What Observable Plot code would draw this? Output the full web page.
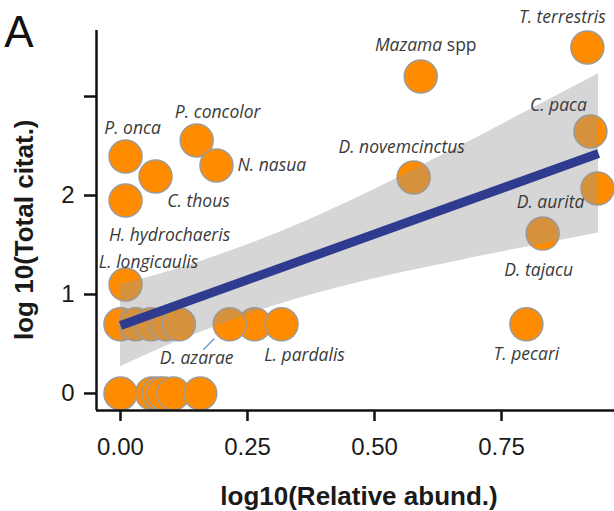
<!DOCTYPE html>
<html>
<head>
<meta charset="utf-8">
<script src="https://cdn.jsdelivr.net/npm/d3@7"></script>
<script src="https://cdn.jsdelivr.net/npm/@observablehq/plot@0.6"></script>
<style>
  html, body { margin: 0; padding: 0; background: #fff; }
  #chart svg { display: block; }
</style>
</head>
<body>
<div id="chart"></div>
<script>
// Named species: log10 relative abundance (x) and log10 total citations (y)
const species = [
  "T. terrestris", "Mazama spp", "C. paca", "D. novemcinctus", "D. aurita",
  "D. tajacu", "T. pecari", "P. onca", "C. thous", "P. concolor", "N. nasua",
  "H. hydrochaeris", "L. longicaulis", "D. azarae", "L. pardalis"
];
const relAbund = [0.919, 0.591, 0.925, 0.577, 0.939, 0.831, 0.799, 0.010, 0.069, 0.150, 0.189, 0.010, 0.010, 0.215, 0.317];
const totalCit = [3.495, 3.202, 2.646, 2.182, 2.071, 1.616, 0.699, 2.394, 2.192, 2.556, 2.303, 1.949, 1.101, 0.699, 0.699];

// Unlabelled species
const otherAbund = [0.000, 0.030, 0.060, 0.090, 0.115, 0.264, 0.000, 0.062, 0.075, 0.085, 0.104, 0.157];
const otherCit   = [0.699, 0.699, 0.699, 0.699, 0.699, 0.699, 0.000, 0.000, 0.000, 0.000, 0.000, 0.000];

// Linear fit and its 95% confidence band
const fitX = [0, 0.941];
const fitY = [0.687, 2.424];
const bandX     = [0, 0.1, 0.2, 0.3, 0.4, 0.5, 0.6, 0.7, 0.8, 0.941];
const bandLower = [0.27, 0.50, 0.70, 0.88, 1.03, 1.16, 1.27, 1.38, 1.48, 1.62];
const bandUpper = [1.10, 1.24, 1.41, 1.60, 1.82, 2.06, 2.32, 2.58, 2.85, 3.23];

// Axis ticks and titles
const xTicks = [0, 0.25, 0.5, 0.75];
const yTicks = [0, 1, 2, 3];
const xTitle = "log10(Relative abund.)";
const yTitle = "log 10(Total citat.)";
const panelTag = "A";

// Label placement relative to each point, in pixels
const labelLayout = {
  "T. terrestris":   {dx: -25, dy: -30},
  "Mazama spp":      {dx: 5,   dy: -31},
  "C. paca":         {dx: -32, dy: -26},
  "D. novemcinctus": {dx: -12, dy: -30},
  "D. aurita":       {dx: -47, dy: 14},
  "D. tajacu":       {dx: -4,  dy: 37},
  "T. pecari":       {dx: 0,   dy: 30},
  "P. onca":         {dx: 7,   dy: -28},
  "C. thous":        {dx: 43,  dy: 25},
  "P. concolor":     {dx: 21,  dy: -28},
  "N. nasua":        {dx: 21,  dy: 0, textAnchor: "start"},
  "H. hydrochaeris": {dx: 44,  dy: 35},
  "L. longicaulis":  {dx: 23,  dy: -22},
  "D. azarae":       {dx: -33, dy: 34},
  "L. pardalis":     {dx: 23,  dy: 31}
};

const named = species.map((name, i) => ({name, x: relAbund[i], y: totalCit[i]}));
const others = otherAbund.map((x, i) => ({x, y: otherCit[i]}));
const points = others.concat(named);
const band = bandX.map((x, i) => ({x, lo: bandLower[i], hi: bandUpper[i]}));
const fit = fitX.map((x, i) => ({x, y: fitY[i]}));

const xDomain = [-0.0472, 0.9724];
const yDomain = [-0.172, 3.667];

const labelMarks = named.map(d => {
  const o = labelLayout[d.name];
  return Plot.text([d], {
    x: "x", y: "y", text: "name",
    dx: o.dx, dy: o.dy,
    textAnchor: o.textAnchor || "middle",
    fontFamily: "Open Sans", fontStyle: "italic", fontSize: 17.5, fill: "#3a3a3a"
  });
});

// Short leader from the D. azarae label to its point
const azarae = named.find(d => d.name === "D. azarae");
const leader = (index, scales) => {
  const px = scales.x(azarae.x), py = scales.y(azarae.y);
  const line = document.createElementNS("http://www.w3.org/2000/svg", "line");
  line.setAttribute("x1", px - 15); line.setAttribute("y1", py + 15);
  line.setAttribute("x2", px - 26); line.setAttribute("y2", py + 26);
  line.setAttribute("stroke", "#5b9bd5");
  line.setAttribute("stroke-width", 1.3);
  return line;
};

const chart = Plot.plot({
  width: 614,
  height: 511,
  marginLeft: 96,
  marginRight: 0,
  marginTop: 30,
  marginBottom: 101,
  style: {fontFamily: "Liberation Sans, Arial, sans-serif", background: "#fff"},
  x: {domain: xDomain},
  y: {domain: yDomain},
  marks: [
    Plot.dot(points, {x: "x", y: "y", r: 16.5, fill: "#ff8c00", stroke: "#9e9a96", strokeWidth: 1.5}),
    Plot.areaY(band, {x: "x", y1: "lo", y2: "hi", fill: "#999999", fillOpacity: 0.4, curve: "monotone-x"}),
    Plot.line(fit, {x: "x", y: "y", stroke: "#2e3b8e", strokeWidth: 9, strokeLinecap: "butt"}),
    ...labelMarks,
    leader,
    Plot.ruleX([xDomain[0]], {stroke: "#111", strokeWidth: 2.5}),
    Plot.ruleY([yDomain[0]], {stroke: "#111", strokeWidth: 2.5}),
    Plot.axisX({ticks: xTicks, tickFormat: d3.format(".2f"), tickSize: 11, tickPadding: 16,
      fontSize: 24, fill: "#1a1a1a", stroke: "#111", strokeWidth: 2.5, label: null}),
    Plot.axisY({ticks: yTicks, tickFormat: d => d === 3 ? "" : String(d), tickSize: 12, tickPadding: 10,
      fontSize: 24, fill: "#1a1a1a", stroke: "#111", strokeWidth: 2.5, label: null})
  ]
});

const ns = "http://www.w3.org/2000/svg";

// "spp" is set upright after the italic genus name
chart.querySelectorAll("text").forEach(t => {
  if (t.textContent === "Mazama spp") {
    t.textContent = "";
    const a = document.createElementNS(ns, "tspan");
    a.setAttribute("font-style", "italic");
    a.textContent = "Mazama";
    const b = document.createElementNS(ns, "tspan");
    b.setAttribute("font-style", "normal");
    b.textContent = " spp";
    t.appendChild(a); t.appendChild(b);
  }
});

// Axis titles and panel tag
const svg = d3.select(chart);
svg.append("text")
  .attr("x", 359).attr("y", 505)
  .attr("text-anchor", "middle")
  .attr("font-family", "Liberation Sans, Arial, sans-serif")
  .attr("font-size", 26).attr("font-weight", "bold").attr("fill", "#1a1a1a")
  .text(xTitle);
svg.append("text")
  .attr("transform", "translate(33,340) rotate(-90)")
  .attr("text-anchor", "start")
  .attr("font-family", "Liberation Sans, Arial, sans-serif")
  .attr("font-size", 26).attr("font-weight", "bold").attr("fill", "#1a1a1a")
  .text(yTitle);
svg.append("text")
  .attr("x", 19).attr("y", 47)
  .attr("font-family", "Liberation Sans, Arial, sans-serif")
  .attr("font-size", 44).attr("fill", "#111")
  .text(panelTag);

document.getElementById("chart").appendChild(chart);
</script>
</body>
</html>
